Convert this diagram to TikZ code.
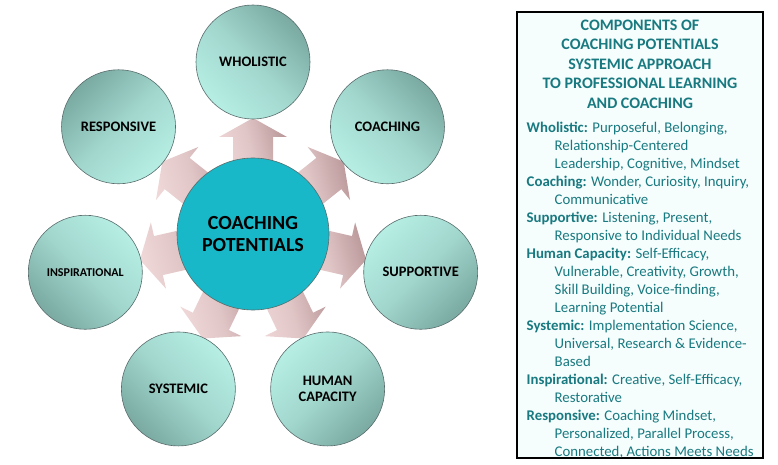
\documentclass[tikz,border=0pt]{standalone}
\usepackage{fontspec}
\setmainfont{Carlito}
\usetikzlibrary{calc}
\definecolor{partlight}{RGB}{182,238,228}
\definecolor{partdark}{RGB}{122,170,162}
\definecolor{partline}{RGB}{88,108,108}
\definecolor{hubfill}{RGB}{24,184,200}
\definecolor{arrowlight}{RGB}{240,216,216}
\definecolor{arrowdark}{RGB}{188,154,156}
\definecolor{legendtext}{RGB}{24,122,128}
\definecolor{legendfill}{RGB}{245,253,253}
\tikzset{
	part/.style={circle, draw=partline, line width=0.6pt, minimum size=114pt, inner sep=0pt, left color=partlight, right color=partdark, middle color=partlight!65!partdark, align=center, font=\bfseries\fontsize{14.5}{16.5}\selectfont},
	hub/.style={circle, draw=partline, line width=0.6pt, minimum size=152pt, inner sep=0pt, fill=hubfill, align=center, font=\bfseries\fontsize{20}{22}\selectfont},
	spoke/.style={left color=arrowlight, right color=arrowdark, middle color=arrowlight!70!arrowdark, shading angle=105},
	legendhead/.style={inner sep=0pt, align=center, text=legendtext, font=\bfseries\fontsize{16}{19.5}\selectfont},
	legendbody/.style={inner sep=0pt, align=left, text=legendtext, font=\fontsize{14.8}{18}\selectfont}
}
\def\spokearrow(#1:#2){\shade[spoke] ($(#1)+(#2:40)+(#2+90:20)$) -- ($(#1)+(#2:97)+(#2+90:20)$) -- ($(#1)+(#2:97)+(#2+90:34)$) -- ($(#1)+(#2:116)$) -- ($(#1)+(#2:97)+(#2-90:34)$) -- ($(#1)+(#2:97)+(#2-90:20)$) -- ($(#1)+(#2:40)+(#2-90:20)$) -- cycle;}
\newcommand{\hd}[1]{\textbf{#1}}
\newcommand{\ind}{\hspace*{28pt}}

\begin{document}
\begin{tikzpicture}[x=1pt, y=1pt]
			%%%%% START %%%%%
			\useasboundingbox (0,0) rectangle (778,464);
			
			\coordinate (core) at (253,230);
			
			\spokearrow(core:90)
			\spokearrow(core:38.571)
			\spokearrow(core:-12.857)
			\spokearrow(core:-64.286)
			\spokearrow(core:-115.714)
			\spokearrow(core:-167.143)
			\spokearrow(core:141.429)
			
			\node[hub] (hub) at (core) {COACHING\\POTENTIALS};
			
			\node[part, shading angle=135] (wholistic) at ($(core)+(90:172)$) {WHOLISTIC};
			\node[part, shading angle=135] (coaching) at ($(core)+(38.571:172)$) {COACHING};
			\node[part, shading angle=45] (supportive) at ($(core)+(-12.857:172)$) {SUPPORTIVE};
			\node[part, shading angle=45] (human) at ($(core)+(-64.286:172)$) {HUMAN\\CAPACITY};
			\node[part, shading angle=315] (systemic) at ($(core)+(-115.714:172)$) {SYSTEMIC};
			\node[part, shading angle=315, font=\bfseries\fontsize{12}{14}\selectfont] (inspirational) at ($(core)+(-167.143:172)$) {INSPIRATIONAL};
			\node[part, shading angle=225] (responsive) at ($(core)+(141.429:172)$) {RESPONSIVE};
			
			\draw[line width=1.1pt, fill=legendfill] (517,6) rectangle (763,452);
			
			\node[legendhead, anchor=north] (legendtitle) at (640,444.5) {COMPONENTS OF\\COACHING POTENTIALS\\SYSTEMIC APPROACH\\TO PROFESSIONAL LEARNING\\AND COACHING};
			
			\node[legendbody, anchor=north west] (legendlist) at (526.5,342.5) {%
				\hd{Wholistic:} Purposeful, Belonging,\\
				\ind Relationship-Centered\\
				\ind Leadership, Cognitive, Mindset\\
				\hd{Coaching:} Wonder, Curiosity, Inquiry,\\
				\ind Communicative\\
				\hd{Supportive:} Listening, Present,\\
				\ind Responsive to Individual Needs\\
				\hd{Human Capacity:} Self-Efficacy,\\
				\ind Vulnerable, Creativity, Growth,\\
				\ind Skill Building, Voice-finding,\\
				\ind Learning Potential\\
				\hd{Systemic:} Implementation Science,\\
				\ind Universal, Research \& Evidence-\\
				\ind Based\\
				\hd{Inspirational:} Creative, Self-Efficacy,\\
				\ind Restorative\\
				\hd{Responsive:} Coaching Mindset,\\
				\ind Personalized, Parallel Process,\\
				\ind Connected, Actions Meets Needs};
			
			%%%%% END %%%%%
\end{tikzpicture}
\end{document}
